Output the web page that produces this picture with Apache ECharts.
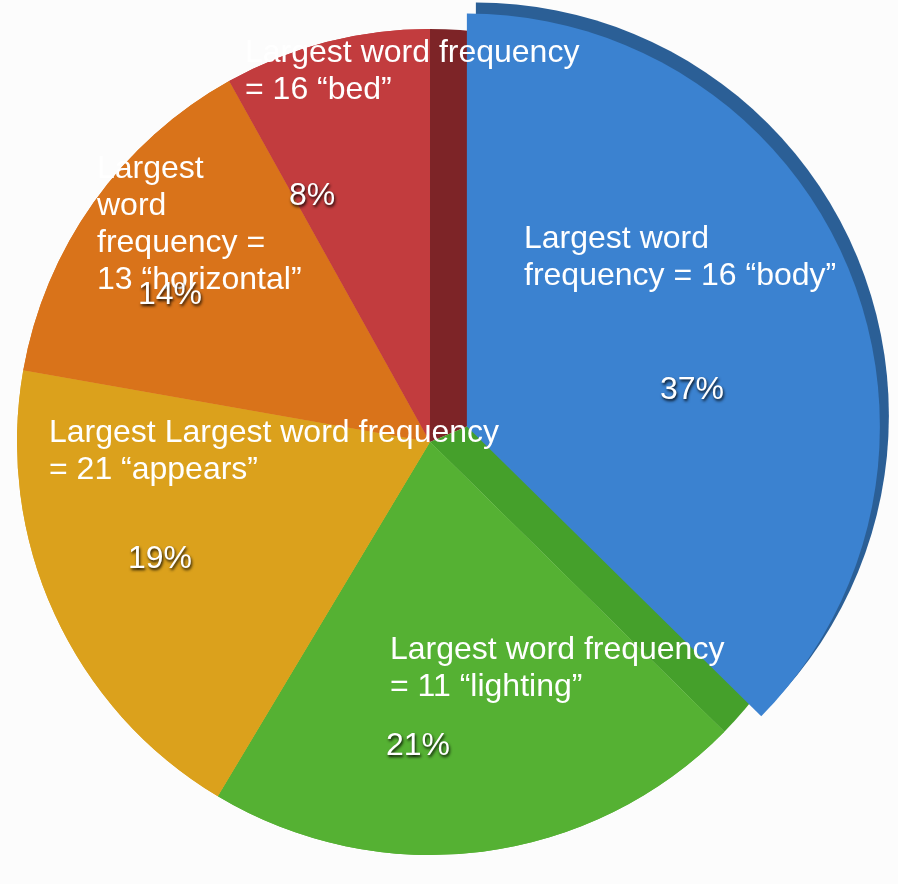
<!DOCTYPE html>
<html><head><meta charset="utf-8">
<script src="https://cdn.jsdelivr.net/npm/echarts@6/dist/echarts.min.js"></script>
<style>html,body{margin:0;padding:0;background:#fcfcfc}#c{width:898px;height:884px}</style>
</head><body><div id="c"></div><script>
// ---- data ----
const categories = ['body', 'lighting', 'appears', 'horizontal', 'bed'];
const shares = [37, 21, 19, 14, 8];
const descriptions = [
  'Largest word\nfrequency = 16 “body”',
  'Largest word frequency\n= 11 “lighting”',
  'Largest Largest word frequency\n= 21 “appears”',
  'Largest\nword\nfrequency =\n13 “horizontal”',
  'Largest word frequency\n= 16 “bed”'
];
// ---- style ----
const sliceColors = ['#3b82d0', '#55b133', '#dba11c', '#d9731a', '#c23c3e'];
const faceColors = ['#7d2427', '#45a02b'];
const edgeColor = '#2b5f96';
const CX = 430, CY = 442, R = 413, EXPLODE = 40;
const descAnchor = [[94, -221], [-40, 190], [-381, -27], [-333, -291], [-185, -407]];
const pctAnchor = [[262, -52], [-12, 304], [-270, 117], [-260, -147], [-118, -246]];
const FONT = '"Liberation Sans", Arial, Helvetica, sans-serif';

const base = {
  type: 'pie', center: [CX, CY], radius: [0, R], startAngle: 90, clockwise: true,
  animation: false, silent: true, emphasis: { disabled: true }, labelLine: { show: false },
  avoidLabelOverlap: false, selectedMode: 'single', selectedOffset: EXPLODE
};

const faceData = [
  { value: shares[0] / 2, name: categories[0] + '-a', itemStyle: { color: faceColors[0] } },
  { value: shares[0] / 2, name: categories[0] + '-b', itemStyle: { color: faceColors[1] } }
].concat(shares.slice(1).map((v, i) => ({ value: v, name: categories[i + 1], itemStyle: { color: sliceColors[i + 1] } })));

const mk = (colorFn, sel) => shares.map((v, i) => ({ value: v, name: categories[i], selected: sel && i === 0, itemStyle: { color: colorFn(i) } }));

const option = {
  backgroundColor: '#fcfcfc',
  series: [
    Object.assign({}, base, { z: 1, selectedMode: false, label: { show: false }, data: faceData }),
    Object.assign({}, base, { z: 2, center: [CX + 9, CY - 11], label: { show: false },
      data: mk(i => i === 0 ? edgeColor : 'rgba(0,0,0,0)', true) }),
    Object.assign({}, base, { z: 3, label: { show: false }, data: mk(i => sliceColors[i], true) }),
    Object.assign({}, base, { z: 4, selectedMode: false,
      label: { show: true, position: 'inside', color: '#fff', fontFamily: FONT, fontSize: 32, lineHeight: 37,
        formatter: p => descriptions[p.dataIndex] },
      labelLayout: p => { const a = descAnchor[p.dataIndex]; return { x: CX + a[0], y: CY + a[1], align: 'left', verticalAlign: 'top' }; },
      data: mk(() => 'rgba(0,0,0,0)', false) }),
    Object.assign({}, base, { z: 5, selectedMode: false,
      label: { show: true, position: 'inside', color: '#fff', fontFamily: FONT, fontSize: 32,
        textShadowColor: 'rgba(0,0,0,0.9)', textShadowBlur: 3, textShadowOffsetX: 1, textShadowOffsetY: 2,
        formatter: p => p.value + '%' },
      labelLayout: p => { const a = pctAnchor[p.dataIndex]; return { x: CX + a[0], y: CY + a[1], align: 'center', verticalAlign: 'middle' }; },
      data: mk(() => 'rgba(0,0,0,0)', false) })
  ]
};
const chart = echarts.init(document.getElementById('c'), null, { renderer: 'canvas' });
chart.setOption(option);
</script></body></html>
